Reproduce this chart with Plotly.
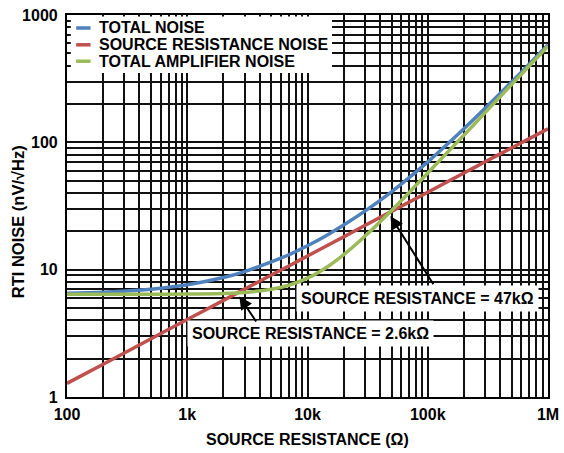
import math
import plotly.graph_objects as go

# Source resistance (ohms) and RTI noise densities (nV/rtHz)
source_resistance = [100, 200, 500, 1e3, 2e3, 3e3, 5e3, 7e3, 1e4, 1.5e4, 2e4, 3e4,
                     5e4, 7e4, 1e5, 2e5, 3e5, 5e5, 7e5, 1e6]
total_noise = [6.53, 6.65, 7.02, 7.60, 8.67, 9.66, 11.5, 13.1, 15.4, 19.0, 22.4, 28.8,
               40.9, 52.8, 70.3, 128, 185, 299, 413, 584]
source_noise = [1.28, 1.81, 2.87, 4.06, 5.74, 7.03, 9.07, 10.7, 12.8, 15.7, 18.1, 22.2,
                28.7, 33.9, 40.6, 57.4, 70.3, 90.7, 107, 128]
amplifier_noise = [6.40, 6.40, 6.41, 6.43, 6.50, 6.62, 7.01, 7.54, 8.57, 10.7, 13.1, 18.3,
                   29.2, 40.4, 57.4, 114, 171, 285, 399, 570]

series_names = ["TOTAL NOISE", "SOURCE RESISTANCE NOISE", "TOTAL AMPLIFIER NOISE"]
series_colors = ["#4F81BD", "#C0504D", "#9BBB59"]

x_tickvals = [100, 1e3, 1e4, 1e5, 1e6]
x_ticktext = ["100", "1k", "10k", "100k", "1M"]
y_tickvals = [1, 10, 100, 1000]
y_ticktext = ["1", "10", "100", "1000"]

# crossover points marked with arrows: (resistance, noise, label)
markers = [(47e3, 28.0, "SOURCE RESISTANCE = 47kΩ"),
           (2.6e3, 6.55, "SOURCE RESISTANCE = 2.6kΩ")]

FONT = "Liberation Sans, Arial, sans-serif"
GRID = "#111111"

fig = go.Figure()
for name, ys, col in zip(series_names, [total_noise, source_noise, amplifier_noise], series_colors):
    fig.add_trace(go.Scatter(x=source_resistance, y=ys, name=name, mode="lines",
                             line=dict(color=col, width=3.5, shape="spline", smoothing=0.8),
                             showlegend=False))

def minor_vals(lo_exp, hi_exp):
    return [m * 10 ** e for e in range(lo_exp, hi_exp) for m in range(2, 10)]

axis_common = dict(type="log", showline=True, linecolor="black", linewidth=2.2, mirror=True,
                   showgrid=True, gridcolor=GRID, gridwidth=2.2, ticks="", automargin=False,
                   tickfont=dict(family=FONT, size=16, color="black", weight="bold"),
                   zeroline=False)

fig.update_xaxes(range=[2, 6], tickmode="array", tickvals=x_tickvals, ticktext=x_ticktext,
                 minor=dict(tickmode="array", tickvals=minor_vals(2, 6), showgrid=True,
                            gridcolor=GRID, gridwidth=1.5, ticks=""),
                 ticklabelstandoff=2,
                 **axis_common)
fig.update_yaxes(range=[0, 3], tickmode="array", tickvals=y_tickvals, ticktext=y_ticktext,
                 minor=dict(tickmode="array", tickvals=minor_vals(0, 3), showgrid=True,
                            gridcolor=GRID, gridwidth=1.5, ticks=""),
                 ticklabelstandoff=4,
                 **axis_common)

# legend drawn as a white panel with short line keys
fig.add_shape(type="rect", xref="paper", yref="paper", x0=0.008, x1=0.551, y0=0.848, y1=0.996,
              fillcolor="white", line=dict(width=0), layer="above")
rows_y = [0.966, 0.922, 0.879]
for name, col, yy in zip(series_names, series_colors, rows_y):
    fig.add_shape(type="line", xref="paper", yref="paper", x0=0.019, x1=0.049, y0=yy, y1=yy,
                  line=dict(color=col, width=3.5), layer="above")
    fig.add_annotation(xref="paper", yref="paper", x=0.062, y=yy, text=name, showarrow=False,
                       xanchor="left", yanchor="middle",
                       font=dict(family=FONT, size=16, color="black", weight="bold"))

# axis titles
fig.add_annotation(xref="paper", yref="paper", x=-0.102, y=0.46, text="RTI NOISE (nV/√Hz)",
                   textangle=-90, showarrow=False, xanchor="center", yanchor="middle",
                   font=dict(family=FONT, size=16.5, color="black", weight="bold"))
fig.add_annotation(xref="paper", yref="paper", x=0.5, y=-0.112, text="SOURCE RESISTANCE (Ω)",
                   showarrow=False, xanchor="center", yanchor="middle",
                   font=dict(family=FONT, size=16, color="black", weight="bold"))

# crossover labels and arrows
label_pos = [(0.729, 0.259), (0.507, 0.165)]
tail_offsets = [(46, 73), (20, 30)]
for (rx, ny, txt), (px, py), (ax, ay) in zip(markers, label_pos, tail_offsets):
    fig.add_annotation(xref="paper", yref="paper", x=px, y=py, text=txt, showarrow=False,
                       xanchor="center", yanchor="middle", bgcolor="white", borderpad=4,
                       font=dict(family=FONT, size=16, color="black", weight="bold"))
    fig.add_annotation(x=math.log10(rx), y=math.log10(ny), text="", showarrow=True,
                       ax=ax, ay=ay, arrowhead=2, arrowsize=1.3, arrowwidth=2,
                       arrowcolor="black", standoff=4)

fig.update_layout(width=564, height=453, margin=dict(l=67, r=16, t=15, b=56),
                  plot_bgcolor="white", paper_bgcolor="white",
                  font=dict(family=FONT, color="black"))

fig.write_html("out.html")
